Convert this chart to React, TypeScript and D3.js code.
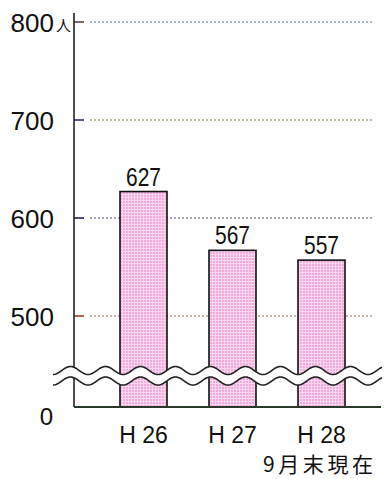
import * as d3 from "d3";

const categories = ["H 26", "H 27", "H 28"];
const values = [627, 567, 557];
const yTicks = [500, 600, 700, 800];
const unitLabel = "人";
const noteLabel = "9月末現在";

const W = 385;
const H = 479;
const AXIS_X = 74;
const BASE_Y = 407;
const FONT = "'Liberation Sans', Arial, sans-serif";
const CJK = "'Noto Sans CJK JP', 'Liberation Sans', sans-serif";

export default function App() {
  // broken axis: 0 sits on the baseline, 500..800 is the real range
  const y = d3.scaleLinear().domain([0, 500, 800]).range([BASE_Y, 316, 22]);
  const xc = d3.scalePoint().domain(categories).range([143.5, 321.5]);
  const bandW = 47;

  // wave break
  const waveX = d3.range(53, 383, 1);
  const period = 35;
  const amp = 4;
  const wave = (yc: number) => (t: number) =>
    yc + amp * Math.sin(((t - 53) / period) * 2 * Math.PI + Math.PI / 2);
  const upper = wave(370.5);
  const lower = wave(381);
  const lineUp = d3.line<number>().x((t) => t).y((t) => upper(t));
  const lineLo = d3.line<number>().x((t) => t).y((t) => lower(t));
  const bandPath =
    "M" +
    waveX.map((t) => `${t},${upper(t)}`).join("L") +
    "L" +
    waveX
      .slice()
      .reverse()
      .map((t) => `${t},${lower(t)}`)
      .join("L") +
    "Z";

  const gridColors = ["#8a6a5a", "#6a4a8a", "#7a7a3a", "#4a7a8a"];
  const tickColors = ["#a04020", "#202060", "#303060", "#604040"];

  return (
    <svg width={W} height={H} style={{ position: "absolute", left: 0, top: 0, background: "#fff" }}>
      <defs>
        <pattern id="dots" width={3} height={3} patternUnits="userSpaceOnUse">
          <rect width={3} height={3} fill="#fad6ef" />
          <rect width={2} height={2} fill="#f2a9dc" />
        </pattern>
      </defs>

      {/* gridlines */}
      {yTicks.map((t, i) => (
        <g key={t}>
          <line x1={90} x2={374} y1={y(t)} y2={y(t)} stroke={gridColors[i]} strokeWidth={1.2} strokeDasharray="2 2" />
          <line x1={AXIS_X} x2={84} y1={y(t)} y2={y(t)} stroke={tickColors[i]} strokeWidth={1.6} />
          <text x={54} y={y(t) + 9.5} textAnchor="end" fontFamily={FONT} fontSize={26} fill="#111">
            {t}
          </text>
        </g>
      ))}
      <text x={56} y={y(800) + 9} fontFamily={CJK} fontSize={15} fill="#111">
        {unitLabel}
      </text>
      <text x={53} y={y(0) + 18} textAnchor="end" fontFamily={FONT} fontSize={24} fill="#111">
        0
      </text>

      {/* bars */}
      {categories.map((c, i) => (
        <g key={c}>
          <rect
            x={xc(c)! - bandW / 2}
            y={y(values[i])}
            width={bandW}
            height={BASE_Y - y(values[i])}
            fill="url(#dots)"
            stroke="#111"
            strokeWidth={1.6}
          />
          <text
            transform={`translate(${xc(c)},${y(values[i]) - 6}) scale(0.84,1)`}
            textAnchor="middle"
            fontFamily={FONT}
            fontSize={25}
            fill="#111"
          >
            {values[i]}
          </text>
          <text x={xc(c)!} y={443} textAnchor="middle" fontFamily={FONT} fontSize={23} fill="#111">
            {c}
          </text>
        </g>
      ))}

      {/* axes */}
      <line x1={AXIS_X} x2={AXIS_X} y1={13} y2={BASE_Y} stroke="#222" strokeWidth={1.6} />
      <line x1={AXIS_X} x2={381} y1={BASE_Y} y2={BASE_Y} stroke="#2a3a2a" strokeWidth={1.8} />

      {/* break */}
      <path d={bandPath} fill="#fff" />
      <path d={lineUp(waveX)!} fill="none" stroke="#222" strokeWidth={1.6} />
      <path d={lineLo(waveX)!} fill="none" stroke="#222" strokeWidth={1.6} />

      <text x={263} y={472} fontFamily={CJK} fontSize={21} letterSpacing={3.6} fill="#111">
        {noteLabel}
      </text>
    </svg>
  );
}
